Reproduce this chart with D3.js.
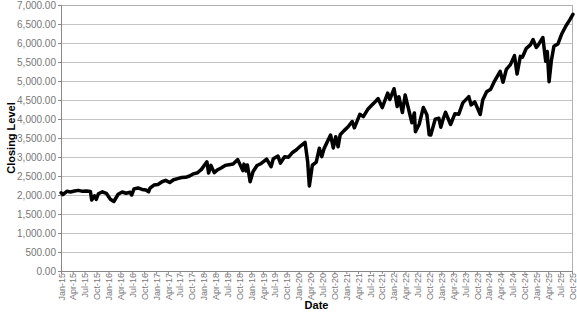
<!DOCTYPE html>
<html>
<head>
<meta charset="utf-8">
<script src="https://cdn.jsdelivr.net/npm/d3@7"></script>
<style>
  body { margin: 0; background: #fff; }
  svg { display: block; font-family: "Liberation Sans", Arial, sans-serif; }
</style>
</head>
<body>
<div id="chart"></div>
<script>
// closing levels (month-ish points plus the visible dips/peaks)
const dates = [
  "2015-01-02","2015-01-15","2015-02-15","2015-03-15","2015-04-15","2015-05-15","2015-06-15","2015-07-15",
  "2015-08-15","2015-08-25","2015-09-15","2015-09-29","2015-10-15","2015-11-15","2015-12-15",
  "2016-01-15","2016-02-11","2016-03-15","2016-04-15","2016-05-15","2016-06-15","2016-06-27","2016-07-15",
  "2016-08-15","2016-09-15","2016-10-15","2016-11-04","2016-11-15","2016-12-15",
  "2017-01-15","2017-02-15","2017-03-15","2017-04-15","2017-05-15","2017-06-15","2017-07-15","2017-08-15",
  "2017-09-15","2017-10-15","2017-11-15","2017-12-15",
  "2018-01-26","2018-02-08","2018-02-26","2018-03-23","2018-04-15","2018-05-15","2018-06-15","2018-07-15",
  "2018-08-15","2018-09-20","2018-10-29","2018-11-07","2018-11-23","2018-12-03","2018-12-24",
  "2019-01-15","2019-02-15","2019-03-15","2019-04-30","2019-06-03","2019-06-20","2019-07-26","2019-08-14",
  "2019-09-15","2019-10-15","2019-11-15","2019-12-15",
  "2020-01-15","2020-02-19","2020-03-10","2020-03-23","2020-04-15","2020-05-15","2020-06-08","2020-06-26",
  "2020-07-15","2020-09-02","2020-09-23","2020-10-12","2020-10-30","2020-11-15","2020-12-15",
  "2021-01-15","2021-02-15","2021-03-04","2021-04-15","2021-05-12","2021-06-15","2021-07-15","2021-08-15",
  "2021-09-02","2021-10-04","2021-11-15","2021-12-01","2022-01-03",
  "2022-01-27","2022-02-09","2022-03-08","2022-03-29","2022-04-15","2022-05-20","2022-06-08","2022-06-16",
  "2022-07-15","2022-08-16","2022-09-12","2022-09-30","2022-10-12","2022-11-15","2022-12-13","2022-12-28",
  "2023-01-15","2023-02-02","2023-03-13","2023-04-15","2023-05-15","2023-06-15","2023-07-31","2023-08-18",
  "2023-09-15","2023-10-27","2023-11-15","2023-12-15",
  "2024-01-15","2024-02-15","2024-03-28","2024-04-19","2024-05-15","2024-06-15","2024-07-16","2024-08-05",
  "2024-08-30","2024-09-15","2024-10-15","2024-11-15","2024-12-06","2024-12-31",
  "2025-01-15","2025-02-19","2025-03-13","2025-03-25","2025-04-08","2025-04-25","2025-05-15","2025-06-15",
  "2025-07-15","2025-08-15","2025-09-15","2025-10-08"
];
const closes = [
  2058, 2011, 2097, 2081, 2106, 2122, 2096, 2108,
  2092, 1868, 1978, 1881, 2033, 2083, 2043,
  1890, 1829, 2020, 2080, 2047, 2071, 2000, 2161,
  2185, 2147, 2133, 2085, 2180, 2262,
  2275, 2349, 2385, 2328, 2402, 2432, 2459, 2465,
  2500, 2557, 2585, 2675,
  2873, 2581, 2780, 2588, 2656, 2712, 2779, 2798,
  2818, 2931, 2641, 2813, 2633, 2790, 2351,
  2610, 2775, 2822, 2945, 2744, 2955, 3025, 2840,
  3007, 2995, 3120, 3191,
  3289, 3386, 2882, 2237, 2783, 2863, 3232, 3009,
  3227, 3580, 3237, 3534, 3270, 3585, 3694,
  3795, 3934, 3768, 4124, 4063, 4255, 4360, 4468,
  4537, 4300, 4682, 4513, 4797,
  4327, 4587, 4170, 4632, 4392, 3901, 4160, 3667,
  3863, 4305, 4110, 3586, 3577, 3992, 4020, 3783,
  3999, 4179, 3855, 4137, 4124, 4425, 4589, 4370,
  4450, 4117, 4502, 4719,
  4783, 5005, 5254, 4967, 5308, 5431, 5667, 5186,
  5648, 5626, 5860, 5949, 6090, 5882,
  5950, 6144, 5521, 5776, 4982, 5525, 5916, 5977,
  6244, 6449, 6615, 6753
];
const yTicks = [0, 500, 1000, 1500, 2000, 2500, 3000, 3500, 4000, 4500, 5000, 5500, 6000, 6500, 7000];
const xTickStart = "2015-01-01";
const xTickEnd = "2025-10-01";

const width = 577, height = 315;
const margin = { top: 5, right: 5, bottom: 44, left: 61 };
const w = width - margin.left - margin.right;
const h = height - margin.top - margin.bottom;

const parse = d3.timeParse("%Y-%m-%d");
const data = dates.map((d, i) => ({ date: parse(d), value: closes[i] }));

const svg = d3.select("#chart").append("svg")
  .attr("width", width)
  .attr("height", height);
const g = svg.append("g").attr("transform", `translate(${margin.left},${margin.top})`);

const x = d3.scaleTime().domain([parse(xTickStart), parse(xTickEnd)]).range([0, w]);
const y = d3.scaleLinear().domain([0, 7000]).range([h, 0]);

// gridlines
g.append("g")
  .selectAll("line")
  .data(yTicks)
  .join("line")
  .attr("x1", 0).attr("x2", w)
  .attr("y1", d => y(d)).attr("y2", d => y(d))
  .attr("stroke", "#c4c4c4")
  .attr("stroke-width", 1)
  .attr("shape-rendering", "crispEdges");

// plot border
g.append("rect")
  .attr("width", w).attr("height", h)
  .attr("fill", "none")
  .attr("stroke", "#b0b0b0")
  .attr("shape-rendering", "crispEdges");

// y axis
const yAxis = g.append("g")
  .call(d3.axisLeft(y).tickValues(yTicks).tickSize(3).tickFormat(d3.format(",.2f")));
yAxis.select(".domain").attr("stroke", "#888");
yAxis.selectAll(".tick line").attr("stroke", "#888");
yAxis.selectAll("text").attr("fill", "#777").attr("font-size", 10).attr("dx", 1);

// x axis, one label every quarter
const xTicks = d3.timeMonth.every(3).range(parse(xTickStart), d3.timeDay.offset(parse(xTickEnd), 1));
const xAxis = g.append("g")
  .attr("transform", `translate(0,${h})`)
  .call(d3.axisBottom(x).tickValues(xTicks).tickSize(3).tickFormat(d3.timeFormat("%b-%y")));
xAxis.select(".domain").attr("stroke", "#888");
xAxis.selectAll(".tick line").attr("stroke", "#888");
xAxis.selectAll("text")
  .attr("fill", "#777")
  .attr("font-size", 9)
  .attr("transform", "rotate(-90)")
  .attr("text-anchor", "end")
  .attr("x", -2)
  .attr("y", 0)
  .attr("dy", "0.35em");

// the line
g.append("path")
  .datum(data)
  .attr("fill", "none")
  .attr("stroke", "#000")
  .attr("stroke-width", 3.5)
  .attr("stroke-linejoin", "round")
  .attr("stroke-linecap", "round")
  .attr("d", d3.line().x(d => x(d.date)).y(d => y(d.value)));

// axis titles
svg.append("text")
  .attr("x", margin.left + w / 2)
  .attr("y", 309)
  .attr("text-anchor", "middle")
  .attr("font-size", 11)
  .attr("font-weight", "bold")
  .text("Date");

svg.append("text")
  .attr("transform", `translate(15,${margin.top + h / 2}) rotate(-90)`)
  .attr("text-anchor", "middle")
  .attr("font-size", 11)
  .attr("font-weight", "bold")
  .text("Closing Level");
</script>
</body>
</html>
